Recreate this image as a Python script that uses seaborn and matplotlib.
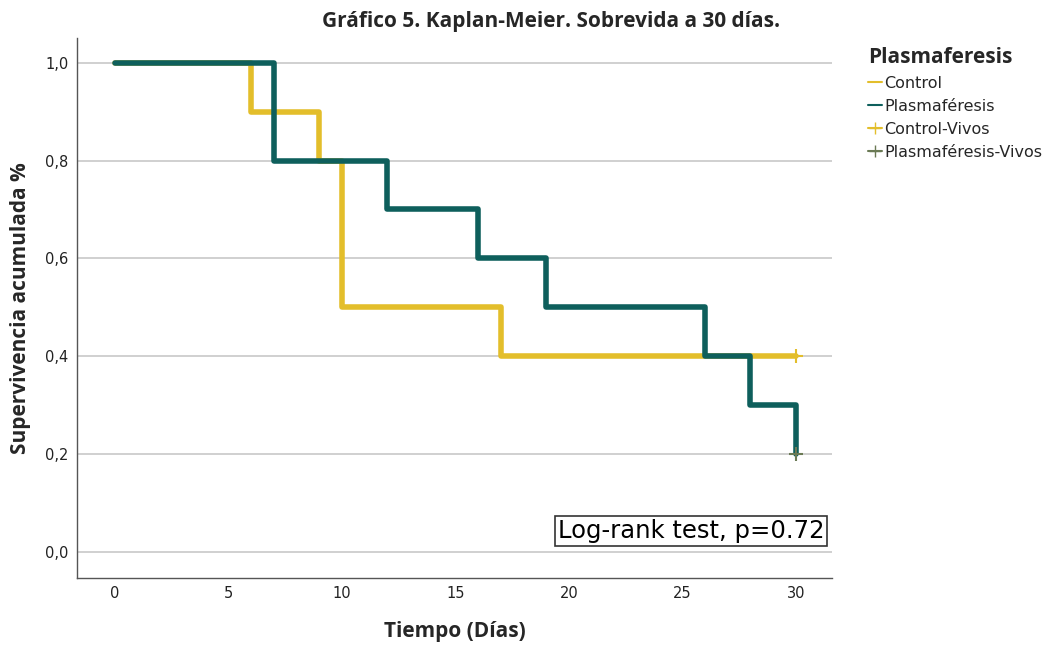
import matplotlib
matplotlib.use("Agg")
import matplotlib.pyplot as plt
import seaborn as sns
import pandas as pd
from matplotlib.lines import Line2D

# Data
control_t = [0, 6, 9, 10, 17, 30]
control_s = [1.0, 0.9, 0.8, 0.5, 0.4, 0.4]
plasma_t = [0, 7, 12, 16, 19, 26, 28, 30]
plasma_s = [1.0, 0.8, 0.7, 0.6, 0.5, 0.4, 0.3, 0.2]
cens_control = ([30], [0.4])
cens_plasma = ([30], [0.2])
groups = ["Control", "Plasmaféresis"]
x_ticks = [0, 5, 10, 15, 20, 25, 30]
y_ticks = [0.0, 0.2, 0.4, 0.6, 0.8, 1.0]

sns.set_theme(style="white")
plt.rcParams['font.family'] = ['DejaVu Sans']

c_yellow = "#E3BE2B"
c_teal = "#0E5F5C"
c_cens_p = "#6B7A55"

df = pd.concat([
    pd.DataFrame({"t": control_t, "s": control_s, "g": groups[0]}),
    pd.DataFrame({"t": plasma_t, "s": plasma_s, "g": groups[1]}),
])

fig = plt.figure(figsize=(10.47, 6.47), dpi=100)
ax = fig.add_axes([0.0735, 0.1066, 0.7212, 0.8344])

for gname, col in zip(groups, [c_yellow, c_teal]):
    sub = df[df.g == gname]
    sns.lineplot(data=sub, x="t", y="s", ax=ax, color=col, lw=4,
                 drawstyle="steps-post", estimator=None, legend=False)

sns.scatterplot(x=cens_control[0], y=cens_control[1], ax=ax, marker="+",
                color=c_yellow, s=90, linewidth=1.5, zorder=5)
sns.scatterplot(x=cens_plasma[0], y=cens_plasma[1], ax=ax, marker="+",
                color=c_cens_p, s=90, linewidth=1.5, zorder=5)

ax.set_xlim(-1.68, 31.6)
ax.set_ylim(-0.053, 1.05)
ax.set_xticks(x_ticks)
ax.set_xticklabels([str(v) for v in x_ticks], fontsize=10.5, color="#222222")
ax.set_yticks(y_ticks)
ax.set_yticklabels([f"{v:.1f}".replace(".", ",") for v in y_ticks], fontsize=10.5, color="#222222")
ax.yaxis.grid(True, color="#C8C8C8", lw=1.2)
ax.set_axisbelow(True)
for s in ["top", "right"]:
    ax.spines[s].set_visible(False)
for s in ["left", "bottom"]:
    ax.spines[s].set_color("#555555")
    ax.spines[s].set_linewidth(1.0)
ax.tick_params(axis="y", length=0, pad=6)
ax.tick_params(axis="x", length=0, pad=6)

ax.set_xlabel("Tiempo (Días)", fontsize=15, fontweight="bold", family="Open Sans", labelpad=14)
ax.set_ylabel("Supervivencia acumulada %", fontsize=15, fontweight="bold", family="Open Sans", labelpad=10)
fig.text(0.526, 0.967, "Gráfico 5. Kaplan-Meier. Sobrevida a 30 días.", ha="center", va="center",
         fontsize=15, fontweight="bold", family="Open Sans")

ax.text(31.27, 0.043, "Log-rank test, p=0.72", ha="right", va="center", fontsize=17.5,
        color="black",
        bbox=dict(facecolor="white", edgecolor="#333333", boxstyle="square,pad=0.12", lw=1.2))

handles = [
    Line2D([], [], color=c_yellow, lw=1.5),
    Line2D([], [], color=c_teal, lw=1.5),
    Line2D([], [], color=c_yellow, lw=1.5, marker="+", markersize=9),
    Line2D([], [], color=c_cens_p, lw=1.5, marker="+", markersize=9),
]
labels = ["Control", "Plasmaféresis", "Control-Vivos", "Plasmaféresis-Vivos"]
leg = fig.legend(handles, labels, title="Plasmaferesis", loc="upper left",
                 bbox_to_anchor=(0.818, 0.945), frameon=False, fontsize=11.5,
                 handlelength=0.9, handletextpad=0.15, labelspacing=0.5,
                 alignment="left", borderpad=0.2)
leg.get_title().set_fontweight("bold")
leg.get_title().set_fontsize(15)
leg.get_title().set_family("Open Sans")

fig.savefig("out.png", dpi=100)
